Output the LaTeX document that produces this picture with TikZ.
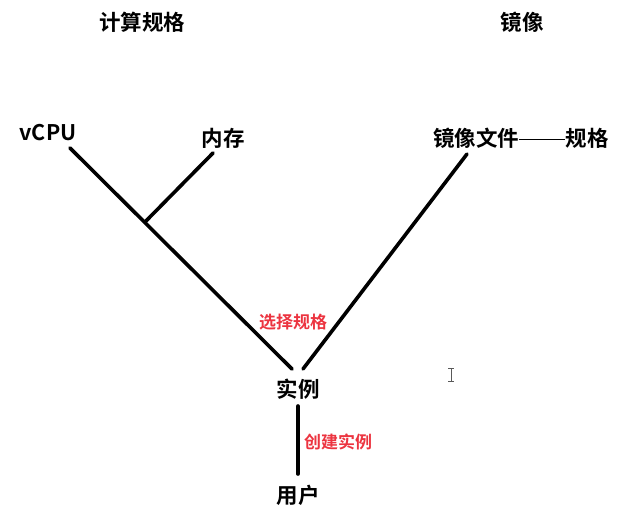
\documentclass[tikz,border=0pt]{standalone}
\usepackage{fontspec}
\newfontfamily\cjk{Noto Sans CJK SC Bold}
\definecolor{lblred}{RGB}{236,52,64}
\begin{document}
\begin{tikzpicture}[x=1pt,y=-1pt,
  lbl/.style={font=\cjk\fontsize{21.5}{24}\selectfont, text=black, inner sep=0pt},
  redlbl/.style={font=\cjk\fontsize{17}{20}\selectfont, text=lblred, inner sep=0pt},
  link/.style={line width=3.6pt, line cap=round, black}]
\useasboundingbox (0,0) rectangle (640,520);
\node[lbl] (spec) at (142,22) {计算规格};
\node[lbl] (img) at (522,22) {镜像};
\node[lbl] (vcpu) at (48,133) {vCPU};
\node[lbl] (mem) at (223,138) {内存};
\node[lbl] (file) at (476,138) {镜像文件};
\node[lbl] (fspec) at (587,138) {规格};
\node[lbl] (inst) at (298,389) {实例};
\node[lbl] (user) at (298,495) {用户};
\node[redlbl] (sel) at (293,322) {选择规格};
\node[redlbl] (create) at (338,442) {创建实例};
\draw[line width=1.8pt] (file.east |- 0,139.5) -- (fspec.west |- 0,139.5);
\coordinate (a1) at (70,148);
\coordinate (a2) at (292,369);
\coordinate (br) at (146,221);
\coordinate (m1) at (213,153);
\coordinate (f1) at (467,154);
\coordinate (f2) at (303,369);
\coordinate (u1) at (298,406);
\coordinate (u2) at (298,474);
\draw[link] (a1) -- (a2);
\draw[link] (br) -- (m1);
\draw[link] (f1) -- (f2);
\draw[link] (u1) -- (u2);
% text cursor
\coordinate (c1) at (451,368);
\coordinate (c2) at (451,381);
\draw[line width=0.9pt, gray!70!black] (c1) -- (c2)
  (448,368) -- (454,368) (448,381) -- (454,381);
\end{tikzpicture}
\end{document}
